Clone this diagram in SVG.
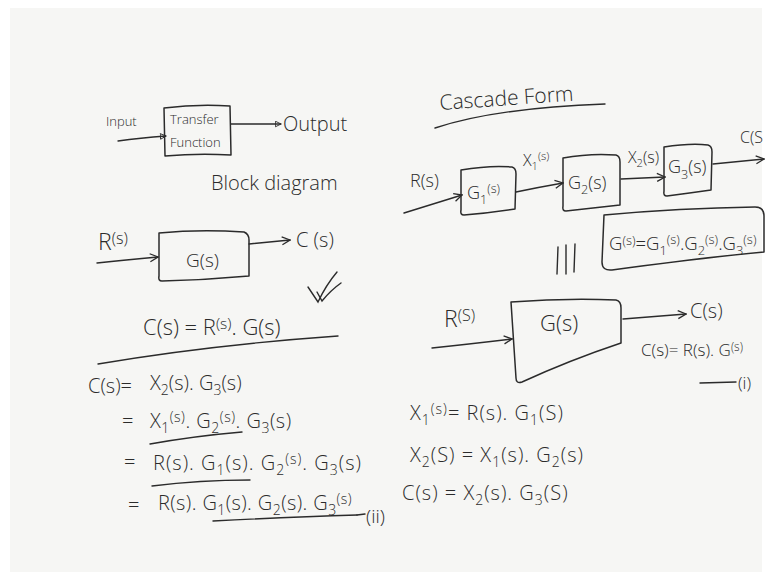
<svg xmlns="http://www.w3.org/2000/svg" width="770" height="581" viewBox="0 0 770 581">
<defs>
<marker id="ah" viewBox="0 0 10 10" refX="9" refY="5" markerWidth="10" markerHeight="10" markerUnits="userSpaceOnUse" orient="auto">
<path d="M1,1 L9,5 L1,9" fill="none" stroke="#2b2b2b" stroke-width="1.3"/>
</marker>
<marker id="ahs" viewBox="0 0 10 10" refX="9" refY="5" markerWidth="7" markerHeight="7" markerUnits="userSpaceOnUse" orient="auto">
<path d="M1,1 L9,5 L1,9 Z" fill="none" stroke="#2b2b2b" stroke-width="1.3"/>
</marker>
</defs>
<style>
text{font-family:"Open Sans","Liberation Sans",sans-serif;fill:#2b2b2b;font-weight:300}
.b{fill:none;stroke:#2b2b2b;stroke-width:1.5;stroke-linecap:round;stroke-linejoin:round}
.c{fill:none;stroke:#2b2b2b;stroke-width:1.4;stroke-linecap:round;marker-end:url(#ah)}
.cs{fill:none;stroke:#2b2b2b;stroke-width:1.3;stroke-linecap:round;marker-end:url(#ahs)}
.u{fill:none;stroke:#2b2b2b;stroke-width:1.4;stroke-linecap:round}
.s{font-size:70%}
</style>
<rect x="0" y="0" width="770" height="581" fill="#ffffff"/>
<rect x="10" y="8" width="752" height="564" fill="#f6f6f4"/>

<g id="connectors">
<path class="cs" d="M118,141 Q140,138 166,136"/>
<path class="cs" d="M231,124 L281,124"/>
<path class="c" d="M97,263 Q125,260 158,257"/>
<path class="c" d="M249,244 L290,240"/>
<path class="c" d="M404,213 Q430,205 462,195"/>
<path class="c" d="M516,192 Q540,187 563,183"/>
<path class="c" d="M621,179 L665,177"/>
<path class="c" d="M713,164 L764,159"/>
<path class="c" d="M432,348 Q470,344 512,339"/>
<path class="c" d="M623,319 L686,314"/>
</g>

<g id="intro">
<text x="106" y="126" font-size="13">Input</text>
<text x="211" y="190" font-size="20">Block diagram</text>
</g>
<g id="node-transfer-function">
<path class="b" d="M164,108 Q196,104 230,106 L231,155 Q198,153 165,156 Z"/>
<text x="170" y="124" font-size="13">Transfer</text>
<text x="170" y="147" font-size="13">Function</text>
</g>
<text x="283" y="131" font-size="20">Output</text>

<g id="node-g-simple">
<path class="b" d="M159,233 Q200,229 244,232 Q249,234 249,240 L249,276 Q205,280 162,281 Q158,281 159,276 Z"/>
<text x="186" y="267" font-size="19">G(s)</text>
</g>
<text x="98" y="250" font-size="23">R<tspan class="s" dy="-6">(s)</tspan></text>
<text x="296" y="247" font-size="20">C (<tspan>s</tspan>)</text>
<path class="u" d="M308,287 L318,302 Q326,285 337,272"/>
<path class="u" d="M317,292 L322,301 Q331,290 341,283"/>
<text x="143" y="335" font-size="22">C(s) = R<tspan class="s" dy="-6">(s)</tspan><tspan dy="6">. G(s)</tspan></text>
<path class="u" d="M98,364 Q210,345 338,336"/>

<g id="derivation-left">
<text x="88" y="393" font-size="20">C(s)=</text>
<text x="150" y="390" font-size="20">X<tspan class="s" dy="5">2</tspan><tspan dy="-5">(s). G</tspan><tspan class="s" dy="5">3</tspan><tspan dy="-5">(s)</tspan></text>
<text x="122" y="428" font-size="20">=</text>
<text x="150" y="428" font-size="20" letter-spacing="0.5">X<tspan class="s" dy="5">1</tspan><tspan class="s" dy="-11">(s)</tspan><tspan dy="6">. G</tspan><tspan class="s" dy="5">2</tspan><tspan class="s" dy="-11">(s)</tspan><tspan dy="6">. G</tspan><tspan class="s" dy="5">3</tspan><tspan dy="-5">(s)</tspan></text>
<path class="u" d="M150,444 Q195,436 242,432"/>
<text x="124" y="469" font-size="20">=</text>
<text x="153" y="470" font-size="20" letter-spacing="1">R(s). G<tspan class="s" dy="5">1</tspan><tspan dy="-5">(s). G</tspan><tspan class="s" dy="5">2</tspan><tspan class="s" dy="-11">(s)</tspan><tspan dy="6">. G</tspan><tspan class="s" dy="5">3</tspan><tspan dy="-5">(s)</tspan></text>
<path class="u" d="M152,486 Q200,480 250,480"/>
<text x="128" y="512" font-size="20">=</text>
<text x="158" y="510" font-size="20" letter-spacing="0.4">R(s). G<tspan class="s" dy="5">1</tspan><tspan dy="-5">(s). G</tspan><tspan class="s" dy="5">2</tspan><tspan dy="-5">(s). G</tspan><tspan class="s" dy="5">3</tspan><tspan class="s" dy="-11">(s)</tspan></text>
<path class="u" d="M213,521 Q290,517 357,515"/>
<path class="u" d="M357,515 L365,514"/>
<text x="366" y="523" font-size="19">(ii)</text>
</g>

<g id="title-cascade">
<text x="440" y="110" font-size="21" transform="rotate(-4 440 110)">Cascade Form</text>
<path class="u" d="M435,128 Q495,108 605,104"/>
</g>
<text x="410" y="187" font-size="18">R(s)</text>
<g id="node-g1">
<path class="b" d="M461,170 Q490,165 512,167 Q516,168 516,174 L515,209 Q490,213 464,215 Q460,215 461,210 Z"/>
<text x="467" y="199" font-size="18">G<tspan class="s" dy="5">1</tspan><tspan class="s" dy="-11">(s)</tspan></text>
</g>
<text x="523" y="166" font-size="16">X<tspan class="s" dy="4">1</tspan><tspan class="s" dy="-10">(s)</tspan></text>
<g id="node-g2">
<path class="b" d="M563,158 Q590,153 616,155 Q620,156 620,162 L620,205 Q592,208 566,211 Q562,211 563,206 Z"/>
<text x="568" y="189" font-size="18">G<tspan class="s" dy="5">2</tspan><tspan dy="-5">(s)</tspan></text>
</g>
<text x="628" y="163" font-size="16">X<tspan class="s" dy="4">2</tspan><tspan dy="-4">(s)</tspan></text>
<g id="node-g3">
<path class="b" d="M664,147 Q690,143 708,145 Q712,146 712,152 L711,190 Q690,193 667,196 Q663,196 664,191 Z"/>
<text x="668" y="173" font-size="18">G<tspan class="s" dy="6">3</tspan><tspan dy="-6">(s)</tspan></text>
</g>
<text x="740" y="143" font-size="16">C(S</text>

<g id="node-equation">
<path class="b" d="M604,215 Q680,208 755,207 Q764,207 764,216 L764,252 Q700,258 612,270 Q602,271 602,262 Z"/>
<text x="609" y="250" font-size="18.5">G<tspan class="s" dy="-5">(s)</tspan><tspan dy="5">=G</tspan><tspan class="s" dy="5">1</tspan><tspan class="s" dy="-11">(s)</tspan><tspan dy="6">.G</tspan><tspan class="s" dy="5">2</tspan><tspan class="s" dy="-11">(s)</tspan><tspan dy="6">.G</tspan><tspan class="s" dy="5">3</tspan><tspan class="s" dy="-11">(s)</tspan></text>
</g>
<g id="equivalence">
<path class="u" d="M558,247 L557,274 M566,245 L566,274 M575,244 L574,272"/>
</g>

<g id="node-g-equivalent">
<path class="b" d="M511,302 Q565,298 616,300 Q621,301 621,308 L621,343 Q570,360 522,382 Q516,384 516,378 Z"/>
<text x="540" y="331" font-size="22">G(s)</text>
</g>
<text x="444" y="327" font-size="23">R<tspan class="s" dy="-6">(S)</tspan></text>
<text x="690" y="318" font-size="20">C(s)</text>
<text x="641" y="356" font-size="17">C(s)= R(s). G<tspan class="s" dy="-5">(s)</tspan></text>
<path class="u" d="M700,383 L736,382"/>
<text x="738" y="389" font-size="17">(i)</text>

<g id="derivation-right">
<text x="410" y="420" font-size="20" letter-spacing="1">X<tspan class="s" dy="5">1</tspan><tspan class="s" dy="-11">(s)</tspan><tspan dy="6">= R(s).  G</tspan><tspan class="s" dy="5">1</tspan><tspan dy="-5">(S)</tspan></text>
<text x="410" y="462" font-size="20" letter-spacing="1">X<tspan class="s" dy="5">2</tspan><tspan dy="-5">(S) = X</tspan><tspan class="s" dy="5">1</tspan><tspan dy="-5">(s). G</tspan><tspan class="s" dy="5">2</tspan><tspan dy="-5">(s)</tspan></text>
<text x="402" y="500" font-size="20" letter-spacing="1">C(s) = X<tspan class="s" dy="5">2</tspan><tspan dy="-5">(s). G</tspan><tspan class="s" dy="5">3</tspan><tspan dy="-5">(S)</tspan></text>
</g>
</svg>
